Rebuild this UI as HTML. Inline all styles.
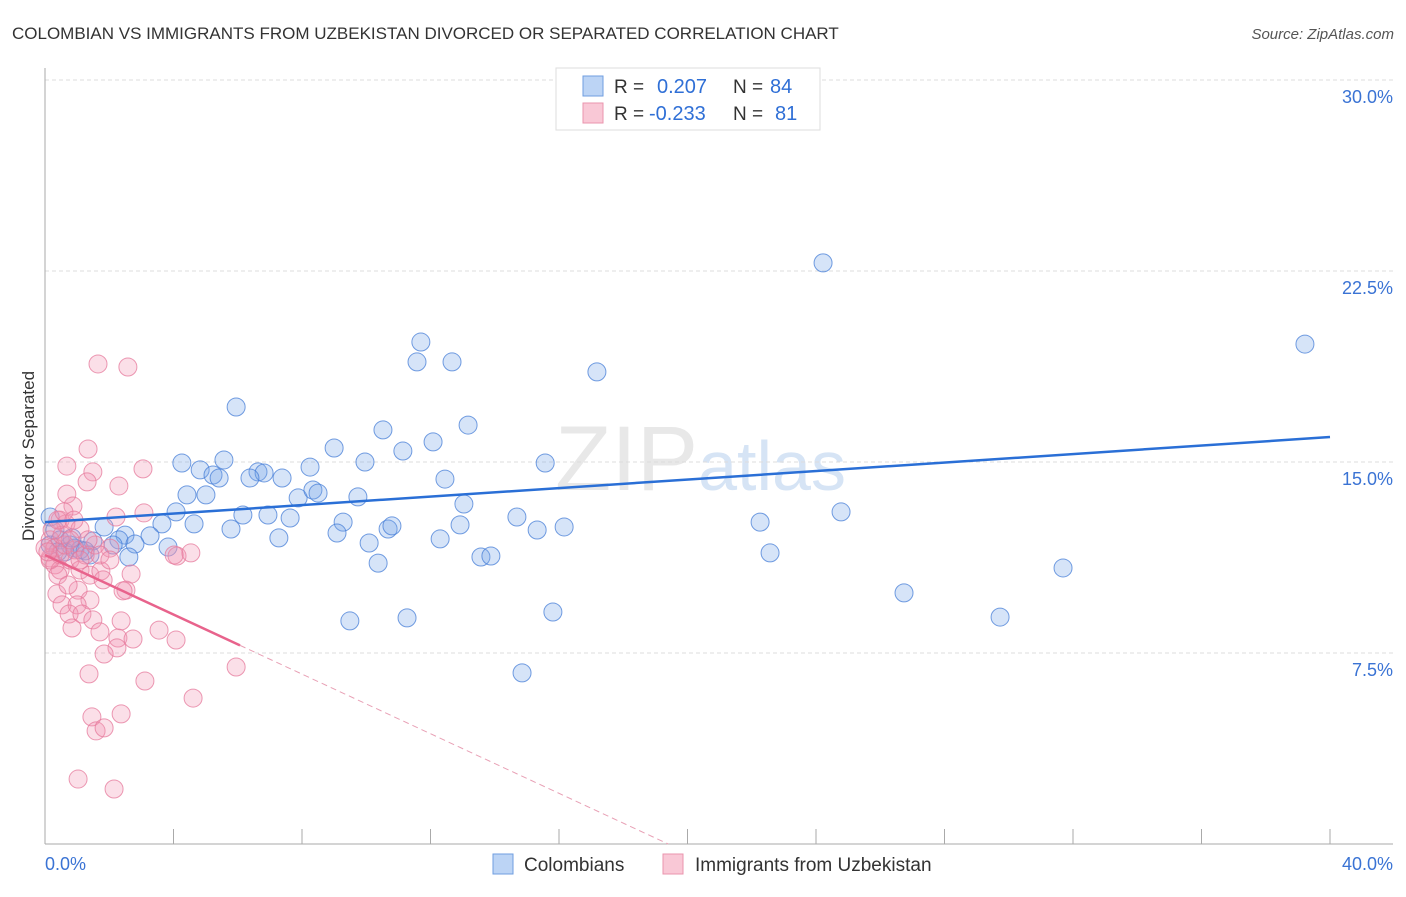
<!DOCTYPE html>
<html><head><meta charset="utf-8"><style>
body{margin:0;background:#fff;font-family:"Liberation Sans",sans-serif}
svg text{font-family:"Liberation Sans",sans-serif}
</style></head><body>
<svg id="chart" width="1406" height="892" xmlns="http://www.w3.org/2000/svg">
<text x="12" y="39" font-size="17" fill="#333">COLOMBIAN VS IMMIGRANTS FROM UZBEKISTAN DIVORCED OR SEPARATED CORRELATION CHART</text>
<text x="1394" y="39" font-size="15" fill="#555" text-anchor="end" font-style="italic">Source: ZipAtlas.com</text>
<text x="555" y="490" font-size="92" fill="#e8e8e8" font-family="Liberation Serif">ZIP<tspan fill="#d6e4f5" font-family="Liberation Sans" font-size="70">atlas</tspan></text>
<g id="grid"></g>
<g id="axes"></g>
<g id="blue"></g>
<g id="pink"></g>
<g id="trends"></g>
<text transform="translate(34,456) rotate(-90)" font-size="17" fill="#333" text-anchor="middle">Divorced or Separated</text>
<g>
<rect x="556" y="68" width="264" height="62" fill="#fff" stroke="#ddd"/>
<rect x="583" y="76" width="20" height="20" fill="#bcd4f5" stroke="#6f9ee0"/>
<rect x="583" y="103" width="20" height="20" fill="#f9c8d6" stroke="#ea94ad"/>
<text x="614" y="93" font-size="19" fill="#333">R =</text>
<text x="657" y="93" font-size="20" fill="#2f6fd6">0.207</text>
<text x="733" y="93" font-size="19" fill="#333">N =</text>
<text x="770" y="93" font-size="20" fill="#2f6fd6">84</text>
<text x="614" y="120" font-size="19" fill="#333">R =</text>
<text x="649" y="120" font-size="20" fill="#2f6fd6">-0.233</text>
<text x="733" y="120" font-size="19" fill="#333">N =</text>
<text x="775" y="120" font-size="20" fill="#2f6fd6">81</text>
</g>
<g>
<rect x="493" y="854" width="20" height="20" fill="#bcd4f5" stroke="#6f9ee0"/>
<text x="524" y="871" font-size="19" fill="#333">Colombians</text>
<rect x="663" y="854" width="20" height="20" fill="#f9c8d6" stroke="#ea94ad"/>
<text x="695" y="871" font-size="19" fill="#333">Immigrants from Uzbekistan</text>
</g>
</svg>
<script>
const blueX=[24.22,39.22,11.70,11.58,12.67,17.18,5.95,10.52,13.17,9.00,12.08,11.14,4.26,5.57,9.96,15.57,4.83,5.23,6.63,6.82,6.38,5.42,8.25,7.38,12.45,4.42,5.01,7.88,8.34,8.50,9.74,13.04,4.08,6.16,6.94,7.63,14.69,9.28,22.26,24.78,4.64,5.79,3.64,1.84,2.49,9.09,10.68,10.80,12.92,15.32,16.16,7.28,3.27,12.30,10.09,2.30,1.49,2.12,2.80,3.83,2.61,13.57,13.88,22.57,10.37,31.69,26.74,15.81,9.49,11.27,29.73,14.85,0.16,0.31,0.47,0.78,0.93,1.09,0.62,1.25,0.16,0.40,0.84,1.40];
const blueY=[22.82,19.63,19.71,18.93,18.93,18.54,17.16,16.26,16.45,15.55,15.79,15.43,14.96,15.08,15.00,14.96,14.69,14.49,14.61,14.57,14.37,14.37,14.80,14.37,14.33,13.71,13.71,13.59,13.90,13.78,13.63,13.35,13.04,12.92,12.92,12.80,12.84,12.64,12.64,13.04,12.57,12.37,12.57,12.45,12.13,12.21,12.37,12.49,12.53,12.33,12.45,12.02,12.10,11.98,11.82,11.94,11.90,11.74,11.78,11.66,11.27,11.27,11.31,11.43,11.03,10.84,9.86,9.11,8.76,8.88,8.91,6.72,12.84,12.33,11.94,11.74,11.62,11.55,11.47,11.51,11.74,11.47,12.02,11.35];
const pinkX=[1.65,2.58,1.34,0.68,1.49,3.05,1.31,2.30,0.68,0.87,2.21,3.08,0.47,0.65,1.09,2.02,4.11,4.54,4.02,0.16,0.31,0.47,0.78,1.09,1.40,1.74,2.68,1.81,1.03,2.52,2.43,0.37,1.40,0.53,1.00,0.75,1.15,1.49,2.37,0.84,1.71,2.27,2.74,3.55,4.08,2.24,1.84,1.37,5.95,3.11,4.61,1.46,2.37,1.59,1.84,1.03,2.15,0.16,0.31,0.47,0.62,0.93,1.25,0.16,0.53,0.78,1.56,1.71,0.40,0.72,1.09,0.22,0.00,0.09,1.34,2.02,0.40,0.59,0.90];
const pinkY=[18.85,18.73,15.51,14.84,14.61,14.73,14.22,14.06,13.74,13.27,12.84,13.00,12.72,12.57,12.37,11.62,11.31,11.43,11.35,11.23,10.96,10.76,11.15,10.76,10.56,10.72,10.60,10.37,9.97,9.97,9.94,9.82,9.58,9.39,9.39,9.03,9.03,8.80,8.76,8.48,8.33,8.09,8.05,8.40,8.01,7.70,7.46,6.68,6.95,6.40,5.73,4.99,5.11,4.44,4.56,2.55,2.16,11.94,11.62,11.35,11.74,11.55,11.35,11.15,12.13,11.94,11.74,11.35,10.56,10.17,11.15,12.33,11.62,11.47,11.94,11.15,12.72,13.04,12.72];
const yTicks=[7.5,15.0,22.5,30.0];
const yTickLabels=["7.5%","15.0%","22.5%","30.0%"];
const xTicks=[0,4,8,12,16,20,24,28,32,36,40];
const blueTrend=[[0,12.64],[40,15.98]];
const pinkTrend=[[0,11.35],[6.07,7.8]];
const pinkTrendDash=[[6.07,7.8],[19.4,0]];

const NS="http://www.w3.org/2000/svg";
const X0=45,X1=1330,Y0=844,YT=80;
const sx=v=>X0+(X1-X0)*v/40;
const sy=v=>Y0-(Y0-YT)*v/30;
function mk(tag,attrs,parent){const e=document.createElementNS(NS,tag);for(const k in attrs)e.setAttribute(k,attrs[k]);parent.appendChild(e);return e;}
const grid=document.getElementById('grid'),axes=document.getElementById('axes');
yTicks.forEach((t,i)=>{
  const l=mk('line',{x1:X0,x2:1393,y1:sy(t),y2:sy(t),stroke:'#ddd','stroke-dasharray':'4,3'},grid);
  
  
  const tx=mk('text',{x:1393,y:sy(t)+23,'font-size':18,fill:'#3a73d4','text-anchor':'end'},axes);
  tx.textContent=yTickLabels[i];
  
  
});
const ya=mk('line',{x1:X0,x2:X0,y1:68,y2:Y0,stroke:'#aaa'},axes);


const xa=mk('line',{x1:X0,x2:1393,y1:Y0,y2:Y0,stroke:'#aaa'},axes);


xTicks.forEach(t=>{
  const l=mk('line',{x1:sx(t),x2:sx(t),y1:Y0-15,y2:Y0,stroke:'#aaa'},axes);
  
  
});
const xl0=mk('text',{x:45,y:870,'font-size':18,fill:'#3a73d4'},axes);xl0.textContent='0.0%';


const xl1=mk('text',{x:1393,y:870,'font-size':18,fill:'#3a73d4','text-anchor':'end'},axes);xl1.textContent='40.0%';


function pts(g,xs,ys,fill,stroke,name){
  xs.forEach((x,i)=>{
    const c=mk('circle',{cx:sx(x),cy:sy(ys[i]),r:9,fill:fill,stroke:stroke,'stroke-width':1},g);
    
    
  });
}
pts(document.getElementById('blue'),blueX,blueY,'rgba(120,165,232,0.3)','rgba(70,125,215,0.75)','colombian-point');
pts(document.getElementById('pink'),pinkX,pinkY,'rgba(242,150,178,0.3)','rgba(230,120,155,0.75)','uzbekistan-point');
const tr=document.getElementById('trends');
const bt=mk('line',{x1:sx(blueTrend[0][0]),y1:sy(blueTrend[0][1]),x2:sx(blueTrend[1][0]),y2:sy(blueTrend[1][1]),stroke:'#2a6fd6','stroke-width':2.5},tr);


const pt=mk('line',{x1:sx(pinkTrend[0][0]),y1:sy(pinkTrend[0][1]),x2:sx(pinkTrend[1][0]),y2:sy(pinkTrend[1][1]),stroke:'#e8638c','stroke-width':2.5},tr);


const pd=mk('line',{x1:sx(pinkTrendDash[0][0]),y1:sy(pinkTrendDash[0][1]),x2:sx(pinkTrendDash[1][0]),y2:sy(pinkTrendDash[1][1]),stroke:'#e8a0b5','stroke-width':1,'stroke-dasharray':'6,4'},tr);


</script>
</body></html>
